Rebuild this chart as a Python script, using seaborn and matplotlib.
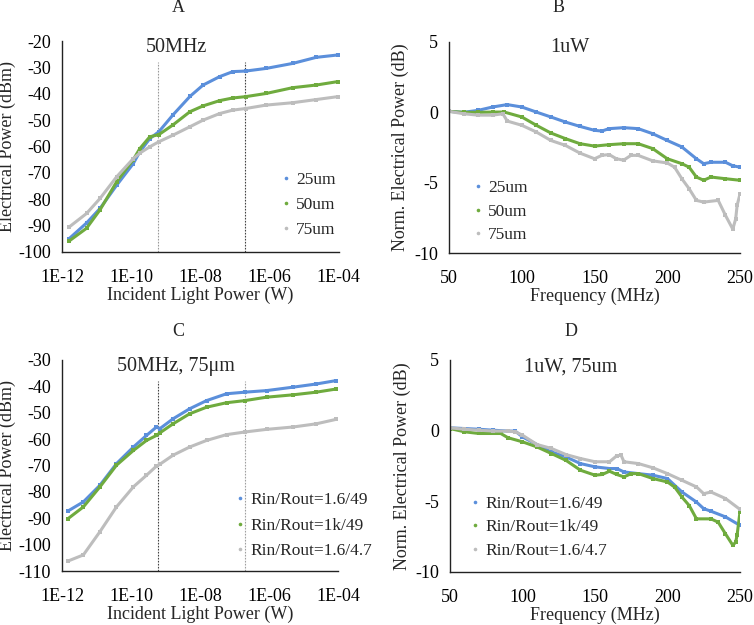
import matplotlib
matplotlib.use("Agg")
import matplotlib.pyplot as plt
import seaborn as sns
import numpy as np
import pandas as pd

sns.set_theme(style="white")
plt.rcParams['font.family'] = ['Liberation Serif', 'DejaVu Serif']
plt.rcParams['axes.unicode_minus'] = False

BLUE = "#5B8FDB"
GREEN = "#6FAB3E"
GRAY = "#BDBDBD"

# ---------- Panel A: 50MHz ----------
a_logx = [-11.79, -11.29, -10.9, -10.42, -9.94, -9.75, -9.46, -9.2, -8.79, -8.3, -7.92, -7.44, -7.06, -6.69, -6.1, -5.33, -4.65, -4.03]
a_25 = [-94.9, -89.0, -83.5, -74.7, -66.5, -62.0, -57.0, -54.4, -48.0, -41.0, -36.7, -33.5, -31.6, -31.4, -30.4, -28.5, -26.2, -25.3]
a_50 = [-95.8, -91.0, -84.0, -73.4, -65.0, -60.8, -56.3, -55.5, -51.8, -46.8, -44.6, -42.6, -41.6, -41.1, -39.9, -37.7, -36.7, -35.4]
a_75 = [-90.5, -85.4, -79.7, -71.5, -64.6, -62.5, -60.1, -58.2, -55.7, -52.5, -50.0, -47.5, -46.2, -45.6, -44.3, -43.4, -42.2, -41.1]

# ---------- Panel B: 1uW ----------
b_f25 = [50, 60, 70, 80, 90, 100, 110, 120, 130, 140, 150, 155, 160, 170, 180, 190, 200, 210, 220, 225, 230, 240, 245, 250]
b_25 = [0.07, 0.0, 0.14, 0.38, 0.55, 0.38, 0.02, -0.33, -0.69, -1.0, -1.28, -1.33, -1.16, -1.09, -1.16, -1.52, -2.0, -2.46, -3.3, -3.65, -3.55, -3.55, -3.8, -3.9]
b_f50 = [50, 60, 70, 80, 88, 100, 110, 120, 130, 140, 150, 160, 170, 180, 190, 200, 210, 215, 220, 225, 230, 240, 250]
b_50 = [0.07, 0.0, 0.0, 0.02, 0.02, -0.33, -0.92, -1.47, -1.87, -2.23, -2.4, -2.3, -2.23, -2.23, -2.58, -3.3, -3.65, -3.9, -4.6, -4.83, -4.6, -4.72, -4.83]
b_f75 = [50, 60, 70, 80, 87, 90, 100, 110, 120, 130, 140, 150, 155, 160, 165, 170, 175, 180, 190, 200, 205, 210, 215, 220, 225, 235, 240, 245, 247, 248, 250]
b_75 = [0.07, -0.1, -0.2, -0.2, -0.1, -0.62, -0.92, -1.4, -2.0, -2.35, -2.9, -3.3, -3.06, -3.0, -3.3, -3.4, -3.06, -3.06, -3.45, -3.6, -3.9, -4.72, -5.43, -6.26, -6.38, -6.26, -7.33, -8.3, -7.58, -6.6, -5.8]

# ---------- Panel C: 50MHz, 75um ----------
c_logx = [-11.82, -11.38, -10.9, -10.42, -9.93, -9.55, -9.26, -9.16, -8.78, -8.3, -7.81, -7.23, -6.7, -6.07, -5.3, -4.63, -4.05]
c_a = [-87.2, -83.8, -77.5, -69.3, -63.0, -58.6, -55.4, -56.0, -52.3, -48.5, -45.4, -42.8, -42.2, -41.6, -40.3, -39.1, -37.8]
c_b = [-90.1, -85.7, -78.1, -69.9, -64.3, -60.5, -58.6, -57.6, -54.2, -50.4, -47.9, -46.2, -45.4, -44.1, -43.2, -42.2, -41.0]
c_c = [-106.2, -103.9, -95.1, -85.7, -78.1, -73.7, -70.2, -69.5, -66.1, -63.0, -60.5, -58.3, -57.3, -56.3, -55.4, -54.2, -52.5]

# ---------- Panel D: 1uW, 75um ----------
d_fa = [50, 60, 70, 80, 90, 95, 100, 110, 120, 130, 140, 150, 160, 165, 170, 180, 190, 200, 210, 220, 225, 230, 240, 250]
d_a = [0.2, 0.15, 0.1, 0.03, -0.03, -0.03, -0.44, -0.98, -1.5, -1.86, -2.33, -2.56, -2.68, -2.68, -2.92, -3.04, -3.15, -3.39, -4.34, -5.05, -5.52, -5.7, -6.1, -6.7]
d_fb = [50, 60, 70, 80, 85, 90, 100, 110, 120, 130, 140, 150, 155, 160, 165, 170, 175, 180, 190, 200, 205, 210, 215, 220, 230, 235, 240, 245, 247, 248, 250]
d_b = [0.15, -0.08, -0.2, -0.2, -0.2, -0.5, -0.79, -1.15, -1.62, -2.1, -2.8, -3.15, -3.1, -2.87, -3.1, -3.27, -3.04, -3.04, -3.39, -3.63, -4.0, -4.7, -5.3, -6.24, -6.24, -6.48, -7.3, -8.1, -7.9, -7.4, -5.75]
d_fc = [50, 60, 70, 80, 90, 95, 100, 110, 120, 130, 140, 150, 160, 165, 168, 170, 180, 190, 200, 210, 220, 225, 230, 240, 250]
d_c = [0.2, 0.1, 0.03, -0.03, -0.03, -0.08, -0.32, -0.98, -1.26, -1.69, -1.97, -2.2, -2.2, -1.78, -1.74, -2.2, -2.33, -2.63, -3.04, -3.51, -3.98, -4.46, -4.34, -4.8, -5.57]

vlines_w = [6e-10, 2e-7]

fig = plt.figure(figsize=(7.54, 6.25), dpi=100)
axA = fig.add_axes([0.0822, 0.5968, 0.367, 0.3376])
axB = fig.add_axes([0.5955, 0.5952, 0.386, 0.3376])
axC = fig.add_axes([0.0822, 0.0864, 0.366, 0.3376])
axD = fig.add_axes([0.5968, 0.0848, 0.3846, 0.3392])

FS = 13
FS_LEG = 12.5
FS_NOTE = 14.5

def draw(ax, xs, ys, colors, labels):
    for x, y, c, l in zip(xs, ys, colors, labels):
        df = pd.DataFrame({"x": x, "y": y})
        sns.lineplot(data=df, x="x", y="y", ax=ax, color=c, lw=2.2,
                     marker="s", markersize=2.2, markeredgewidth=0,
                     label=l, legend=False)

def style(ax, ylab_x):
    for s in ["top", "right"]:
        ax.spines[s].set_visible(False)
    for s in ["left", "bottom"]:
        ax.spines[s].set_color("#222222")
        ax.spines[s].set_linewidth(1.0)
    ax.tick_params(direction="in", length=4, width=0.8, colors="#222222",
                   labelsize=FS, labelcolor="black")
    ax.tick_params(axis="x", pad=12)
    ax.tick_params(axis="y", pad=8)
    ax.minorticks_off()
    ax.set_xlabel(ax.get_xlabel(), fontsize=FS)
    ax.set_ylabel(ax.get_ylabel(), fontsize=FS)
    ax.xaxis.set_label_coords(0.5, -0.165)
    ax.yaxis.set_label_coords(ylab_x, 0.5)

def add_legend(ax, colors, labels, anchor, spacing):
    handles = [plt.Line2D([], [], ls="none", marker="o", markersize=2.6,
                          markeredgewidth=0, color=c) for c in colors]
    ax.legend(handles, labels, loc="upper left", bbox_to_anchor=anchor, frameon=False,
              fontsize=FS_LEG, handlelength=0.6, handletextpad=0.3,
              labelspacing=spacing, borderaxespad=0, borderpad=0)

cols = [BLUE, GREEN, GRAY]
labAB = ["25um", "50um", "75um"]
labCD = ["Rin/Rout=1.6/49", "Rin/Rout=1k/49", "Rin/Rout=1.6/4.7"]

def log_ticks(ax, vcolors):
    ax.set_xscale("log")
    ax.set_xlim(1e-12, 1e-4)
    ticks = [1e-12, 1e-10, 1e-8, 1e-6, 1e-4]
    ax.set_xticks(ticks)
    ax.set_xticklabels(["1E-12", "1E-10", "1E-08", "1E-06", "1E-04"])
    for v, vc in zip(vlines_w, vcolors):
        ax.axvline(v, ymax=0.9, color=vc, lw=0.8, ls=(0, (1.5, 1.2)), zorder=1)

# Panel A
draw(axA, [10 ** np.array(a_logx)] * 3, [a_25, a_50, a_75], cols, labAB)
log_ticks(axA, ["#9a9a9a", "#444444"])
axA.set_ylim(-100, -20)
axA.set_yticks(range(-100, -19, 10))
axA.set_xlabel("Incident Light Power (W)")
axA.set_ylabel("Electrical Power (dBm)")
style(axA, -0.165)
axA.text(0.415, 0.97, "50MHz", transform=axA.transAxes, ha="center", va="center", fontsize=FS_NOTE)
add_legend(axA, cols, labAB, (0.789, 0.38), 0.5)

# Panel B
draw(axB, [b_f25, b_f50, b_f75], [b_25, b_50, b_75], cols, labAB)
axB.set_xlim(50, 250)
axB.set_ylim(-10, 5)
axB.set_xticks(range(50, 251, 50))
axB.set_yticks([-10, -5, 0, 5])
axB.set_xlabel("Frequency (MHz)")
axB.set_ylabel("Norm. Electrical Power (dB)")
style(axB, -0.137)
axB.text(0.416, 0.976, "1uW", transform=axB.transAxes, ha="center", va="center", fontsize=FS_NOTE)
add_legend(axB, cols, labAB, (0.081, 0.345), 0.42)

# Panel C
draw(axC, [10 ** np.array(c_logx)] * 3, [c_a, c_b, c_c], cols, labCD)
log_ticks(axC, ["#444444", "#a0a0a0"])
axC.set_ylim(-110, -30)
axC.set_yticks(range(-110, -29, 10))
axC.set_xlabel("Incident Light Power (W)")
axC.set_ylabel("Electrical Power (dBm)")
style(axC, -0.165)
axC.text(0.414, 0.967, "50MHz, 75μm", transform=axC.transAxes, ha="center", va="center", fontsize=FS_NOTE)
add_legend(axC, cols, labCD, (0.625, 0.375), 0.55)

# Panel D
draw(axD, [d_fa, d_fb, d_fc], [d_a, d_b, d_c], cols, labCD)
axD.set_xlim(50, 250)
axD.set_ylim(-10, 5)
axD.set_xticks(range(50, 251, 50))
axD.set_yticks([-10, -5, 0, 5])
axD.set_xlabel("Frequency (MHz)")
axD.set_ylabel("Norm. Electrical Power (dB)")
style(axD, -0.134)
axD.text(0.416, 0.967, "1uW, 75um", transform=axD.transAxes, ha="center", va="center", fontsize=FS_NOTE)
add_legend(axD, cols, labCD, (0.067, 0.36), 0.42)

# Panel letters
W, H = 754, 625
for lab, px, py in [("A", 178, 8), ("B", 559, 8), ("C", 178, 331), ("D", 571, 332)]:
    fig.text(px / W, 1 - py / H, lab, ha="center", va="center", fontsize=FS)

fig.savefig("out.png", dpi=100)
